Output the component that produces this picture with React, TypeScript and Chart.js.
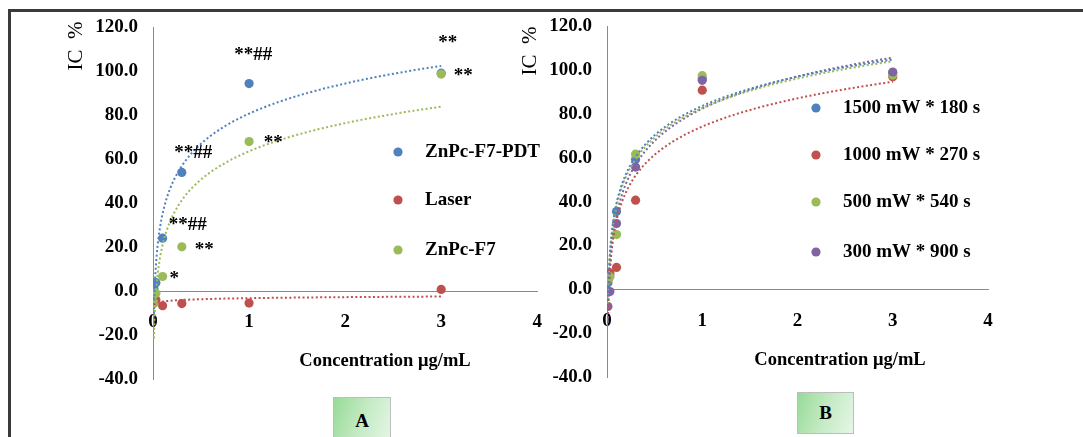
import React, { useEffect, useRef } from "react";
import { Chart, registerables } from "chart.js";

Chart.register(...registerables);

// ---------- data ----------
const CONCENTRATION = [0.01, 0.03, 0.1, 0.3, 1, 3];

const A_SERIES_NAMES = ["ZnPc-F7-PDT", "Laser", "ZnPc-F7"];
const A_PDT = [1.0, 3.8, 24.0, 53.9, 94.3, 99.0];
const A_LASER = [-5.5, -4.0, -6.7, -5.7, -5.5, 0.7];
const A_F7 = [-5.5, -1.0, 6.6, 20.1, 67.9, 98.6];

const B_SERIES_NAMES = ["1500 mW * 180 s", "1000 mW * 270 s", "500 mW * 540 s", "300 mW * 900 s"];
const B_1500 = [3.0, 6.5, 35.5, 59.3, 96.3, 98.8];
const B_1000 = [4.2, 7.5, 10.0, 40.7, 90.9, 97.0];
const B_500 = [4.5, 5.8, 25.0, 61.7, 97.5, 97.8];
const B_300 = [-7.8, -1.0, 30.0, 55.8, 95.4, 99.2];

const Y_TICK_VALUES = [-40, -20, 0, 20, 40, 60, 80, 100, 120];
const X_TICK_VALUES = [0, 1, 2, 3, 4];

const AXIS_TITLE_X = "Concentration μg/mL";
const AXIS_TITLE_Y = "IC  %";

// significance marks on panel A (data coordinates of the text's left/middle)
const A_MARK_TEXT = ["**##", "**", "**", "**", "**##", "**##", "**", "*"];
const A_MARK_X = [0.846, 2.97, 3.13, 1.153, 0.22, 0.164, 0.434, 0.171];
const A_MARK_Y = [107.3, 112.6, 97.7, 67.4, 62.6, 30.0, 18.6, 5.3];

const PANEL_LABELS = ["A", "B"];

// ---------- style ----------
const FONT = "'Liberation Serif', 'Times New Roman', serif";
const BLUE = "#4F81BD";
const RED = "#C0504D";
const GREEN = "#9BBB59";
const PURPLE = "#8064A2";

function logFit(xs: number[], ys: number[]) {
  const lx = xs.map((v) => Math.log(v));
  const n = xs.length;
  const mx = lx.reduce((a, b) => a + b, 0) / n;
  const my = ys.reduce((a, b) => a + b, 0) / n;
  let sxy = 0;
  let sxx = 0;
  for (let i = 0; i < n; i++) {
    sxy += (lx[i] - mx) * (ys[i] - my);
    sxx += (lx[i] - mx) * (lx[i] - mx);
  }
  const b = sxy / sxx;
  const a = my - b * mx;
  return (x: number) => a + b * Math.log(x);
}

function trendPoints(xs: number[], ys: number[]) {
  const f = logFit(xs, ys);
  const lo = Math.min(...xs);
  const hi = Math.max(...xs);
  const pts: { x: number; y: number }[] = [];
  const N = 300;
  for (let i = 0; i <= N; i++) {
    const x = lo * Math.pow(hi / lo, i / N);
    pts.push({ x, y: f(x) });
  }
  return pts;
}

type Series = { name: string; values: number[]; color: string; order: number; trendOrder: number };

type PanelSpec = {
  width: number;
  height: number;
  left: number;
  series: Series[];
  padding: { left: number; right: number; top: number; bottom: number };
  yAxisWidth: number;
  legend: { markerX: number; textX: number; rows: number[] };
  xTitle: { x: number; y: number };
  yTitle: { x: number; y: number };
  marks: boolean;
};

function makeDecor(spec: PanelSpec) {
  return {
    id: "panelDecor",
    afterDraw(chart: any) {
      const ctx: CanvasRenderingContext2D = chart.ctx;
      ctx.save();
      // legend
      spec.series.forEach((s, i) => {
        const y = spec.legend.rows[i];
        ctx.beginPath();
        ctx.fillStyle = s.color;
        ctx.arc(spec.legend.markerX, y, 4.6, 0, Math.PI * 2);
        ctx.fill();
        ctx.fillStyle = "#000";
        ctx.font = `bold 19px ${FONT}`;
        ctx.textAlign = "left";
        ctx.textBaseline = "middle";
        ctx.fillText(s.name, spec.legend.textX, y);
      });
      // x title
      ctx.fillStyle = "#000";
      ctx.font = `bold 18.5px ${FONT}`;
      ctx.textAlign = "center";
      ctx.textBaseline = "middle";
      ctx.fillText(AXIS_TITLE_X, spec.xTitle.x, spec.xTitle.y);
      // y title
      ctx.save();
      ctx.translate(spec.yTitle.x, spec.yTitle.y);
      ctx.rotate(-Math.PI / 2);
      ctx.font = `21px ${FONT}`;
      ctx.fillText(AXIS_TITLE_Y, 0, 0);
      ctx.restore();
      // significance marks
      if (spec.marks) {
        const xs = chart.scales.x;
        const ys = chart.scales.y;
        ctx.font = `bold 19px ${FONT}`;
        ctx.textAlign = "left";
        ctx.textBaseline = "middle";
        A_MARK_TEXT.forEach((t, i) => {
          ctx.fillText(t, xs.getPixelForValue(A_MARK_X[i]), ys.getPixelForValue(A_MARK_Y[i]));
        });
      }
      ctx.restore();
    },
  };
}

function buildConfig(spec: PanelSpec): any {
  const tickFont = { family: FONT, size: 19, weight: "bold" as const };
  const datasets: any[] = [];
  spec.series.forEach((s) => {
    datasets.push({
      type: "line",
      label: s.name + " trend",
      data: trendPoints(CONCENTRATION, s.values),
      borderColor: s.color,
      borderWidth: 2,
      borderDash: [2, 2.4],
      pointRadius: 0,
      fill: false,
      tension: 0,
      order: s.trendOrder,
    });
  });
  spec.series.forEach((s) => {
    datasets.push({
      type: "scatter",
      label: s.name,
      data: CONCENTRATION.map((c, i) => ({ x: c, y: s.values[i] })),
      backgroundColor: s.color,
      borderColor: s.color,
      borderWidth: 0,
      pointRadius: 4.6,
      order: s.order,
    });
  });
  return {
    type: "scatter",
    data: { datasets },
    options: {
      responsive: false,
      maintainAspectRatio: false,
      animation: false,
      devicePixelRatio: 1,
      layout: { padding: spec.padding },
      plugins: { legend: { display: false }, tooltip: { enabled: false }, title: { display: false } },
      scales: {
        x: {
          type: "linear",
          position: { y: 0 },
          min: 0,
          max: 4,
          afterBuildTicks: (sc: any) => {
            sc.ticks = X_TICK_VALUES.map((v) => ({ value: v }));
          },
          ticks: {
            padding: 20,
            color: "#000",
            font: tickFont,
            maxRotation: 0,
            autoSkip: false,
            callback: (v: any) => String(v),
          },
          grid: { display: false, drawTicks: false },
          border: { display: true, color: "#8a8a8a", width: 1 },
        },
        y: {
          type: "linear",
          position: "left",
          min: -40,
          max: 120,
          afterBuildTicks: (sc: any) => {
            sc.ticks = Y_TICK_VALUES.map((v) => ({ value: v }));
          },
          afterFit: (sc: any) => {
            sc.width = spec.yAxisWidth;
          },
          ticks: {
            padding: 15,
            color: "#000",
            font: tickFont,
            autoSkip: false,
            callback: (v: any) => Number(v).toFixed(1),
          },
          grid: { display: false, drawTicks: false },
          border: { display: true, color: "#8a8a8a", width: 1 },
        },
      },
    },
    plugins: [makeDecor(spec)],
  };
}

const PANEL_A: PanelSpec = {
  width: 562,
  height: 437,
  left: 0,
  series: [
    { name: A_SERIES_NAMES[0], values: A_PDT, color: BLUE, order: 12, trendOrder: 2 },
    { name: A_SERIES_NAMES[1], values: A_LASER, color: RED, order: 11, trendOrder: 1 },
    { name: A_SERIES_NAMES[2], values: A_F7, color: GREEN, order: 10, trendOrder: 0 },
  ],
  padding: { left: 0, right: 0, top: 27, bottom: 58 },
  yAxisWidth: 153,
  legend: { markerX: 398, textX: 425, rows: [152, 200, 250] },
  xTitle: { x: 385, y: 361 },
  yTitle: { x: 76, y: 46 },
  marks: true,
};

const PANEL_B: PanelSpec = {
  width: 568,
  height: 437,
  left: 515,
  series: [
    { name: B_SERIES_NAMES[0], values: B_1500, color: BLUE, order: 13, trendOrder: 0 },
    { name: B_SERIES_NAMES[1], values: B_1000, color: RED, order: 12, trendOrder: 1 },
    { name: B_SERIES_NAMES[2], values: B_500, color: GREEN, order: 11, trendOrder: 2 },
    { name: B_SERIES_NAMES[3], values: B_300, color: PURPLE, order: 10, trendOrder: 3 },
  ],
  padding: { left: 0, right: 95, top: 25, bottom: 60 },
  yAxisWidth: 92,
  legend: { markerX: 301, textX: 328, rows: [108, 155, 202, 252] },
  xTitle: { x: 325, y: 360 },
  yTitle: { x: 15, y: 51 },
  marks: false,
};

function Panel({ spec }: { spec: PanelSpec }) {
  const ref = useRef<HTMLCanvasElement | null>(null);
  useEffect(() => {
    if (!ref.current) return;
    const chart = new Chart(ref.current, buildConfig(spec));
    return () => chart.destroy();
  }, [spec]);
  return (
    <canvas
      ref={ref}
      width={spec.width}
      height={spec.height}
      style={{ position: "absolute", left: spec.left, top: 0, width: spec.width, height: spec.height }}
    />
  );
}

function LabelBox({ text, left, top, width, height }: { text: string; left: number; top: number; width: number; height: number }) {
  return (
    <div
      style={{
        position: "absolute",
        left,
        top,
        width,
        height,
        boxSizing: "border-box",
        border: "1px solid #bdbdbd",
        background: "linear-gradient(110deg, #97db97 0%, #c4eac4 50%, #e6f6e6 100%)",
        display: "flex",
        alignItems: "center",
        justifyContent: "center",
        fontFamily: FONT,
        fontWeight: "bold",
        fontSize: 19,
        color: "#000",
      }}
    >
      {text}
    </div>
  );
}

export default function App() {
  return (
    <div
      style={{
        position: "absolute",
        left: 0,
        top: 0,
        width: 1083,
        height: 437,
        background: "#fff",
        overflow: "hidden",
      }}
    >
      <div
        style={{
          position: "absolute",
          left: 8,
          top: 9,
          width: 1200,
          height: 600,
          borderTop: "3px solid #3a3a3a",
          borderLeft: "3px solid #3a3a3a",
        }}
      />
      <Panel spec={PANEL_A} />
      <Panel spec={PANEL_B} />
      <LabelBox text={PANEL_LABELS[0]} left={333} top={397} width={58} height={48} />
      <LabelBox text={PANEL_LABELS[1]} left={797} top={392} width={57} height={42} />
    </div>
  );
}
